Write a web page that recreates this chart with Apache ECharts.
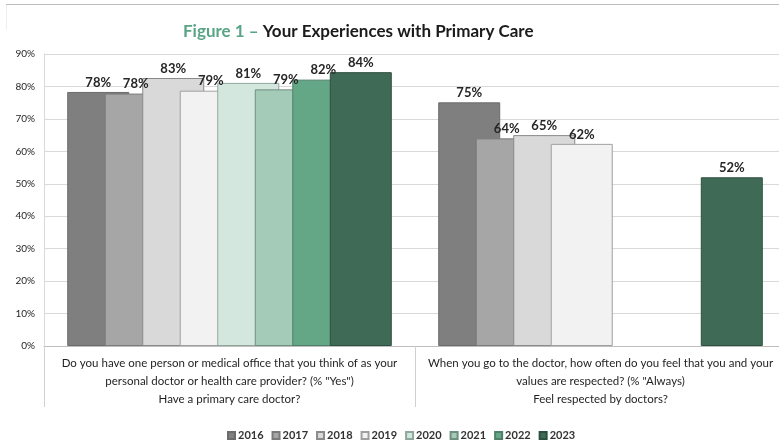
<!DOCTYPE html>
<html>
<head>
<meta charset="utf-8">
<script src="https://cdn.jsdelivr.net/npm/echarts@6/dist/echarts.min.js"></script>
<style>html,body{margin:0;padding:0;background:#fff;overflow:hidden;width:779px;height:442px}#c{width:790px;height:442px}</style>
</head>
<body>
<div id="c"></div>
<script>
const questions = [
  'Do you have one person or medical office that you think of as your\npersonal doctor or health care provider? (% "Yes")',
  'When you go to the doctor, how often do you feel that you and your\nvalues are respected? (% "Always)'
];
const groups = ['Have a primary care doctor?', 'Feel respected by doctors?'];
const years = ['2016','2017','2018','2019','2020','2021','2022','2023'];
const v2016 = [78.3, 75.1];
const v2017 = [77.8, 64.0];
const v2018 = [82.6, 65.0];
const v2019 = [78.7, 62.3];
const v2020 = [81.1, null];
const v2021 = [79.1, null];
const v2022 = [82.1, null];
const v2023 = [84.4, 52.0];

const values = [v2016, v2017, v2018, v2019, v2020, v2021, v2022, v2023];
const colors = ['#7f7f7f','#a6a6a6','#d9d9d9','#f2f2f2','#d4e7de','#a4cab8','#64a787','#3f6b56'];
const borders = ['#6b6b6b','#7a7a7a','#8a8a8a','#a0a0a0','#8fa79b','#6f8f80','#4f7f68','#2e4f40'];
const FONT = 'Lato, "Open Sans", sans-serif';

const chart = echarts.init(document.getElementById('c'), null, {renderer: 'canvas'});
chart.setOption({
  backgroundColor: '#ffffff',
  animation: false,
  textStyle: {fontFamily: FONT},
  title: {
    left: 178, top: 18,
    text: '{a|Figure 1 \u2013 }{b|Your Experiences with Primary Care}',
    textStyle: {
      fontFamily: FONT, fontSize: 17, fontWeight: 'bold',
      rich: {
        a: {color: '#5aa486', fontSize: 17, fontWeight: 'bold', fontFamily: 'Lato'},
        b: {color: '#1a1a1a', fontSize: 17, fontWeight: 'bold', fontFamily: 'Lato'}
      }
    }
  },
  graphic: [
    {type: 'line', shape: {x1: 6, y1: 4.5, x2: 790, y2: 4.5}, style: {stroke: '#bdbdbd', lineWidth: 1}},
    {type: 'line', shape: {x1: 6.5, y1: 5, x2: 6.5, y2: 30}, style: {stroke: '#eeeeee', lineWidth: 1}}
  ],
  grid: {left: 44, width: 742, top: 54, height: 292, containLabel: false},
  legend: {
    data: years,
    left: 222, top: 425,
    icon: 'rect', itemWidth: 7, itemHeight: 7, itemGap: 8,
    textStyle: {fontFamily: FONT, fontSize: 11, fontWeight: 'bold', color: '#333', padding: [0,0,0,-2]}
  },
  xAxis: [
    {
      type: 'category', data: questions, position: 'bottom',
      axisLine: {show: true, lineStyle: {color: '#bfbfbf', width: 1}},
      axisTick: {show: true, length: 61, lineStyle: {color: '#d0d0d0'}},
      axisLabel: {margin: 8, fontFamily: FONT, fontSize: 11.5, color: '#1f1f1f', lineHeight: 18, interval: 0}
    },
    {
      type: 'category', data: groups, position: 'bottom', offset: 47,
      axisLine: {show: false}, axisTick: {show: false},
      axisLabel: {margin: 0, fontFamily: FONT, fontSize: 11.5, color: '#1f1f1f', interval: 0}
    }
  ],
  yAxis: {
    type: 'value', min: 0, max: 90, interval: 10,
    axisLine: {show: true, lineStyle: {color: '#d9d9d9'}},
    axisTick: {show: false},
    splitLine: {lineStyle: {color: '#d9d9d9', width: 1}},
    axisLabel: {formatter: '{value}%', fontFamily: FONT, fontSize: 10, color: '#262626', margin: 9}
  },
  series: years.map((y, i) => ({
    name: y, type: 'bar', data: values[i], xAxisIndex: 0,
    barWidth: 62, barGap: '-39.5%',
    itemStyle: {color: colors[i], borderColor: borders[i], borderWidth: 1},
    label: {
      show: true, position: 'top', distance: 3,
      formatter: p => Math.round(p.value) + '%',
      fontFamily: FONT, fontSize: 13, fontWeight: 'bold', color: '#262626'
    }
  }))
});
</script>
</body>
</html>
